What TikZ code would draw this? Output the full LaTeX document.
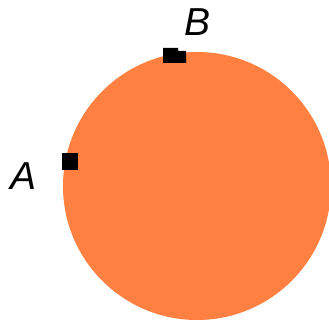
\documentclass[tikz,border=0pt]{standalone}
\usepackage{fontspec}
\setmainfont{Liberation Sans}
\definecolor{disc}{RGB}{255,128,64}
\begin{document}
\begin{tikzpicture}[x=1pt,y=1pt,
  lbl/.style={inner sep=0pt,font=\fontsize{39}{39}\selectfont\itshape},
  pt/.style={fill=black}]
\useasboundingbox (0,0) rectangle (329,320);
\clip (0,0) rectangle (329,320);
\fill[disc] (197,134) circle (134);
\fill[pt] (163,272) -- (178,272) -- (178,269) -- (186,269) -- (186,257) -- (163,257) -- cycle;
\fill[pt] (62,167) rectangle (78,150);
\node[lbl] (B) at (197.5,297.5) {B};
\node[lbl] (A) at (23.5,144) {A};
\end{tikzpicture}
\end{document}
